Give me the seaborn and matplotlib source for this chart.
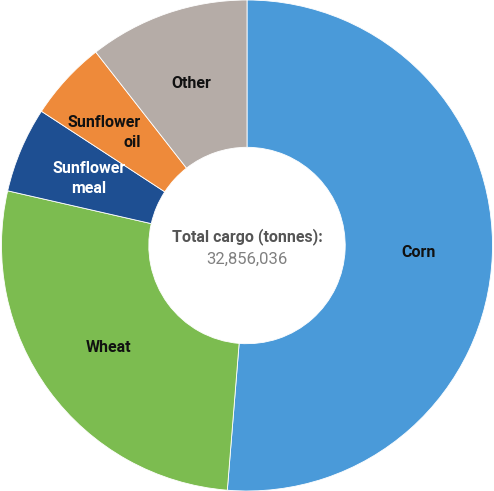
import matplotlib
matplotlib.use("Agg")
import matplotlib.pyplot as plt
import seaborn as sns

categories = ["Corn", "Wheat", "Sunflower\nmeal", "Sunflower\noil", "Other"]
values = [16.85, 8.97, 1.85, 1.72, 3.47]
colors = ["#4a9ad9", "#7cbc50", "#1e4f92", "#ee8a3a", "#b5aca7"]
label_colors = ["#111111", "#111111", "#ffffff", "#111111", "#111111"]
label_align = ["center", "center", "center", "right", "center"]
center_title = "Total cargo (tonnes):"
center_value = "32,856,036"

sns.set_theme(style="white")
plt.rcParams["font.family"] = ["Roboto", "DejaVu Sans"]

fig = plt.figure(figsize=(4.94, 4.91), dpi=100)
ax = fig.add_axes([0, 0, 1, 1])
palette = sns.color_palette(colors)

wedges, texts = ax.pie(
    values,
    labels=categories,
    colors=palette,
    startangle=90,
    counterclock=False,
    radius=1.0,
    labeldistance=0.70,
    wedgeprops=dict(width=0.60, edgecolor="white", linewidth=0.6),
    textprops=dict(fontsize=11.5, fontweight="bold", ha="center", va="center",
                   linespacing=1.45),
)
for t, c, a in zip(texts, label_colors, label_align):
    t.set_color(c)
    t.set_horizontalalignment("center")
    t.set_multialignment(a)

# the "Sunflower oil" label sits a little further out/left in the original
x, y = texts[3].get_position()
texts[3].set_position((x * 1.13, y * 0.97))

ax.text(0, 0.037, center_title, ha="center", va="center", fontsize=11.5,
        fontweight="bold", color="#555555")
ax.text(0, -0.057, center_value, ha="center", va="center", fontsize=12,
        color="#808080")

ax.set_xlim(-1.005, 1.005)
ax.set_ylim(-1.0, 1.0)
ax.set_aspect("equal")
ax.axis("off")
fig.savefig("out.png", dpi=100, facecolor="white")
